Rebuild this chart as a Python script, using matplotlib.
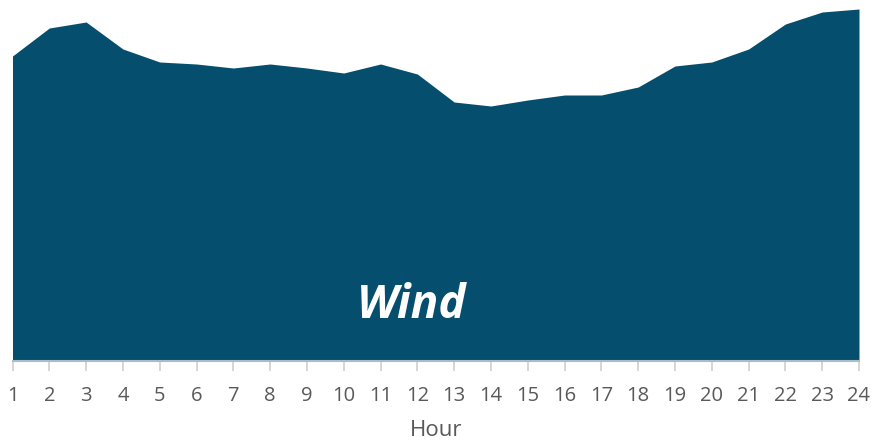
import matplotlib.pyplot as plt
import numpy as np

hours = list(range(1, 25))
# wind output, arbitrary units
wind = [305, 333, 339, 312, 299, 297, 293, 297, 293, 288, 297, 287,
        259, 255, 261, 266, 266, 274, 295, 299, 312, 337, 349, 352]

fill_color = '#054E6E'
text_color = '#595959'

plt.rcParams['font.family'] = ['Open Sans', 'DejaVu Sans']

fig = plt.figure(figsize=(8.71, 4.45), dpi=100)
ax = fig.add_axes([12.5 / 871, 1 - 361 / 445, (859 - 12.5) / 871, 361 / 445])

ax.fill_between(hours, 0, wind, color=fill_color, linewidth=0)
ax.set_xlim(1, 24)
ax.set_ylim(0, 361)

for s in ['top', 'right', 'left']:
    ax.spines[s].set_visible(False)
ax.spines['bottom'].set_color('#A9BDC7')
ax.spines['bottom'].set_linewidth(1.5)

ax.set_yticks([])
ax.set_xticks(hours)
ax.set_xticklabels([str(h) for h in hours])
ax.tick_params(axis='x', colors='#D0D0D0', length=7, width=1.2, pad=11,
               labelcolor=text_color, labelsize=14.5)

ax.set_xlabel('Hour', color=text_color, fontsize=16, labelpad=10)

ax.text(11.85, 55, 'Wind', color='white', fontsize=33, fontweight='bold',
        fontstyle='italic', ha='center', va='center')

fig.savefig('out.png', dpi=100)
